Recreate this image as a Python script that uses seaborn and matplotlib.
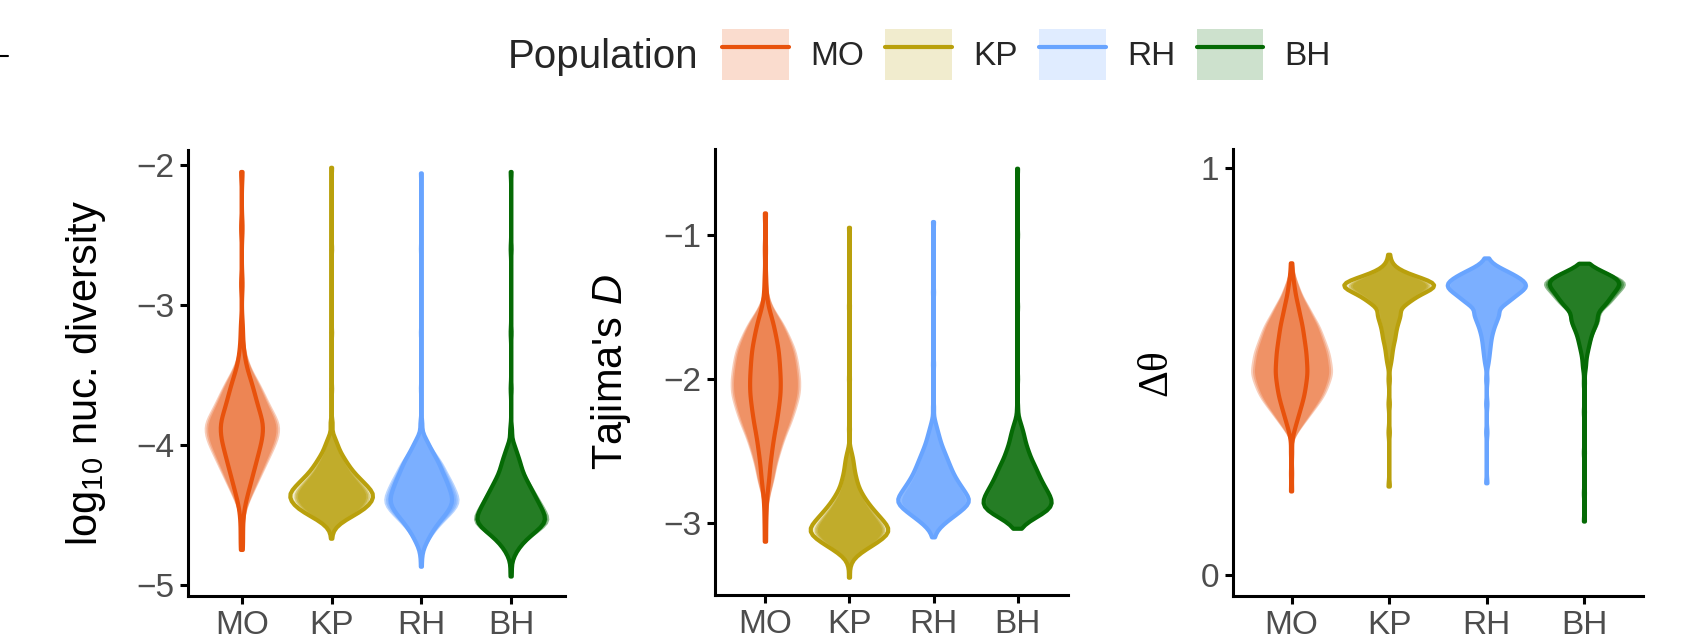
import numpy as np
import pandas as pd
import seaborn as sns
import matplotlib.pyplot as plt
from matplotlib.lines import Line2D
from matplotlib.patches import Patch

# Populations and their colours
pops = ['MO', 'KP', 'RH', 'BH']
colors = ['#E8520C', '#B9A00C', '#68A4FF', '#056A05']

# Each violin is stored as value levels read off the picture and a count per
# level (proportional to the violin width at that level).

# log10 nucleotide diversity
pi_mo_values = [-2.05, -2.45, -2.85, -3.15, -3.25, -3.35, -3.45, -3.55, -3.65, -3.75,
                -3.85, -3.95, -4.05, -4.15, -4.25, -4.35, -4.45, -4.55, -4.65, -4.75]
pi_mo_counts = [1, 1, 1, 1, 1, 2, 4, 8, 11, 14, 18, 17, 14, 11, 8, 5, 2, 1, 1, 1]
pi_kp_values = [-2.02, -2.6, -3.2, -3.6, -3.85, -3.95, -4.0, -4.05, -4.1, -4.15,
                -4.2, -4.25, -4.3, -4.35, -4.4, -4.45, -4.5, -4.55, -4.6, -4.67]
pi_kp_counts = [1, 1, 1, 1, 2, 4, 7, 10, 15, 20, 26, 34, 42, 49, 47, 40, 27, 12, 3, 1]
pi_rh_values = [-2.06, -2.6, -3.2, -3.6, -3.85, -3.95, -4.0, -4.05, -4.1, -4.15, -4.2, -4.25,
                -4.3, -4.35, -4.4, -4.45, -4.5, -4.55, -4.6, -4.65, -4.7, -4.75, -4.8, -4.87]
pi_rh_counts = [1, 1, 1, 1, 2, 5, 9, 13, 18, 22, 25, 29, 32, 35, 37, 34, 28, 21, 15, 10, 6, 2, 1, 1]
pi_bh_values = [-2.05, -2.6, -3.2, -3.6, -3.9, -4.0, -4.05, -4.1, -4.15, -4.2, -4.25, -4.3,
                -4.35, -4.4, -4.45, -4.5, -4.55, -4.6, -4.65, -4.7, -4.75, -4.8, -4.88, -4.94]
pi_bh_counts = [1, 1, 1, 1, 2, 4, 6, 9, 11, 13, 17, 21, 25, 29, 33, 37, 39, 31, 21, 13, 7, 3, 1, 1]

# Tajima's D
td_mo_values = [-0.85, -1.1, -1.3, -1.4, -1.5, -1.6, -1.7, -1.8, -1.9, -2.0, -2.1,
                -2.2, -2.3, -2.4, -2.5, -2.6, -2.7, -2.8, -2.9, -3.0, -3.13]
td_mo_counts = [1, 1, 1, 1, 3, 8, 11, 14, 15, 16, 16, 14, 12, 9, 7, 5, 4, 2, 1, 1, 1]
td_kp_values = [-0.95, -1.5, -2.0, -2.35, -2.5, -2.55, -2.6, -2.65, -2.7, -2.75, -2.8,
                -2.85, -2.9, -2.95, -3.0, -3.05, -3.1, -3.15, -3.2, -3.25, -3.3, -3.38]
td_kp_counts = [1, 1, 1, 1, 2, 4, 5, 6, 8, 10, 14, 19, 25, 32, 39, 45, 39, 27, 14, 4, 1, 1]
td_rh_values = [-0.91, -1.4, -1.9, -2.2, -2.3, -2.35, -2.4, -2.45, -2.5, -2.55, -2.6,
                -2.65, -2.7, -2.75, -2.8, -2.85, -2.9, -2.95, -3.0, -3.05, -3.1]
td_rh_counts = [1, 1, 1, 1, 2, 4, 6, 8, 11, 14, 17, 20, 24, 29, 34, 39, 32, 22, 12, 4, 1]
td_bh_values = [-0.54, -1.0, -1.5, -2.0, -2.2, -2.3, -2.35, -2.4, -2.45, -2.5, -2.55,
                -2.6, -2.65, -2.7, -2.75, -2.8, -2.85, -2.9, -2.95, -3.0, -3.03, -3.04]
td_bh_counts = [1, 1, 1, 1, 1, 3, 5, 7, 8, 11, 13, 17, 20, 23, 27, 31, 35, 34, 22, 7, 1, 1]

# Delta theta
dt_mo_values = [0.766, 0.74, 0.72, 0.70, 0.68, 0.66, 0.64, 0.62, 0.60, 0.58, 0.56, 0.54,
                0.52, 0.50, 0.48, 0.46, 0.44, 0.42, 0.40, 0.38, 0.36, 0.34, 0.30, 0.25, 0.205]
dt_mo_counts = [1, 1, 2, 3, 4, 6, 7, 9, 10, 11, 12, 13, 13, 14, 13, 12, 11, 9, 7, 5, 3, 1,
                1, 1, 1]
dt_kp_values = [0.787, 0.77, 0.76, 0.75, 0.74, 0.73, 0.72, 0.71, 0.70, 0.69, 0.68, 0.67,
                0.66, 0.64, 0.62, 0.60, 0.58, 0.56, 0.54, 0.52, 0.48, 0.42, 0.35, 0.217]
dt_kp_counts = [1, 1, 2, 4, 9, 15, 23, 27, 20, 15, 12, 10, 8, 12, 9, 7, 6, 4, 3, 2, 1, 1, 1, 1]
dt_rh_values = [0.778, 0.77, 0.76, 0.75, 0.74, 0.73, 0.72, 0.71, 0.70, 0.69, 0.68, 0.67,
                0.66, 0.64, 0.62, 0.60, 0.58, 0.56, 0.54, 0.52, 0.48, 0.42, 0.35, 0.225]
dt_rh_counts = [1, 1, 4, 9, 14, 17, 21, 23, 20, 16, 14, 11, 10, 14, 10, 7, 5, 4, 3, 2, 1, 1, 1, 1]
dt_bh_values = [0.765, 0.76, 0.75, 0.74, 0.73, 0.72, 0.71, 0.70, 0.69, 0.68, 0.67, 0.66,
                0.65, 0.63, 0.61, 0.59, 0.57, 0.55, 0.53, 0.51, 0.47, 0.40, 0.30, 0.20, 0.131]
dt_bh_counts = [1, 2, 7, 13, 19, 22, 20, 17, 16, 14, 13, 11, 10, 16, 12, 8, 6, 4, 2, 2,
                1, 1, 1, 1, 1]

sns.set_theme(style='ticks')
plt.rcParams['font.family'] = ['Liberation Sans', 'DejaVu Sans']
plt.rcParams['mathtext.fontset'] = 'custom'
plt.rcParams['mathtext.rm'] = 'Liberation Sans'
plt.rcParams['mathtext.it'] = 'Liberation Sans:italic'

cloud_alpha = [0.28, 0.45, 0.45, 0.45]


def build_frame(values, counts):
    parts = []
    for pop, v, c in zip(pops, values, counts):
        parts.append(pd.DataFrame({'pop': pop, 'value': np.repeat(v, c)}))
    return pd.concat(parts, ignore_index=True)


def draw_panel(ax, df, bw):
    common = dict(x='pop', y='value', order=pops, cut=0, inner=None,
                  saturation=1, bw_adjust=bw, ax=ax)
    # light fill under the violins (area scaled across all four)
    sns.violinplot(data=df, hue='pop', hue_order=pops, palette=colors, legend=False,
                   density_norm='area', common_norm=True, width=0.92, linewidth=0,
                   alpha=0.2, **common)
    # sina-like cloud of points, faded at the edges
    for pop, col, a in zip(pops, colors, cloud_alpha):
        sub = df[df['pop'] == pop]
        for w in (0.84, 0.80, 0.76):
            sns.violinplot(data=sub, color=col, density_norm='width', width=w,
                           linewidth=0, alpha=a, **common)
    # violin outlines
    sns.violinplot(data=df, hue='pop', hue_order=pops, palette=colors, legend=False,
                   density_norm='area', common_norm=True, width=0.92, fill=False,
                   linewidth=3, **common)

    ax.set_xlim(-0.6, 3.6)
    ax.set_xlabel('')
    for side in ['top', 'right']:
        ax.spines[side].set_visible(False)
    for side in ['left', 'bottom']:
        ax.spines[side].set_linewidth(2.2)
        ax.spines[side].set_color('black')
    ax.tick_params(axis='both', length=6, width=2.2, color='black',
                   labelsize=24, labelcolor='#4D4D4D', pad=4)


fig = plt.figure(figsize=(16.91, 6.41), dpi=100)
W, H = 1691, 641
ax1 = fig.add_axes([188 / W, 1 - 596 / H, 377 / W, 446 / H])
ax2 = fig.add_axes([715 / W, 1 - 595 / H, 353 / W, 446 / H])
ax3 = fig.add_axes([1233 / W, 1 - 596 / H, 410 / W, 447 / H])

pi_df = build_frame([pi_mo_values, pi_kp_values, pi_rh_values, pi_bh_values],
                    [pi_mo_counts, pi_kp_counts, pi_rh_counts, pi_bh_counts])
td_df = build_frame([td_mo_values, td_kp_values, td_rh_values, td_bh_values],
                    [td_mo_counts, td_kp_counts, td_rh_counts, td_bh_counts])
dt_df = build_frame([dt_mo_values, dt_kp_values, dt_rh_values, dt_bh_values],
                    [dt_mo_counts, dt_kp_counts, dt_rh_counts, dt_bh_counts])

draw_panel(ax1, pi_df, 0.5)
ax1.set_ylim(-5.079, -1.893)
ax1.set_yticks([-5, -4, -3, -2])
ax1.set_ylabel(r'$\mathregular{log_{10}}$ nuc. diversity', fontsize=30, color='black')
ax1.yaxis.set_label_coords((108 - 188) / 377, 0.5)

draw_panel(ax2, td_df, 0.5)
ax2.set_ylim(-3.5, -0.403)
ax2.set_yticks([-3, -2, -1])
ax2.set_ylabel(r"Tajima's $\mathit{D}$", fontsize=30, color='black')
ax2.yaxis.set_label_coords((633 - 715) / 353, 0.5)

draw_panel(ax3, dt_df, 0.5)
ax3.set_ylim(-0.052, 1.047)
ax3.set_yticks([0, 1])
ax3.set_ylabel('Δθ', fontsize=30, color='black', family=['Liberation Serif', 'DejaVu Serif'])
ax3.yaxis.set_label_coords((1175 - 1233) / 410, 0.5)

# legend across the top
handles = [(Patch(facecolor=c, alpha=0.2, edgecolor='none'), Line2D([], [], color=c, lw=3))
           for c in colors]
fig.text(508 / W, 1 - 68 / H, 'Population', fontsize=29, ha='left', va='baseline')
fig.legend(handles, pops, loc='center left', bbox_to_anchor=(722 / W, 1 - 54.5 / H),
           ncol=4, frameon=False, fontsize=24, handlelength=2.0, handleheight=2.0,
           handletextpad=0.64, columnspacing=0.64, borderpad=0, borderaxespad=0)

# small mark at the left edge
fig.add_artist(Line2D([0, 8 / W], [1 - 56 / H, 1 - 56 / H], color='black', lw=1.5))

fig.savefig('out.png', dpi=100)
